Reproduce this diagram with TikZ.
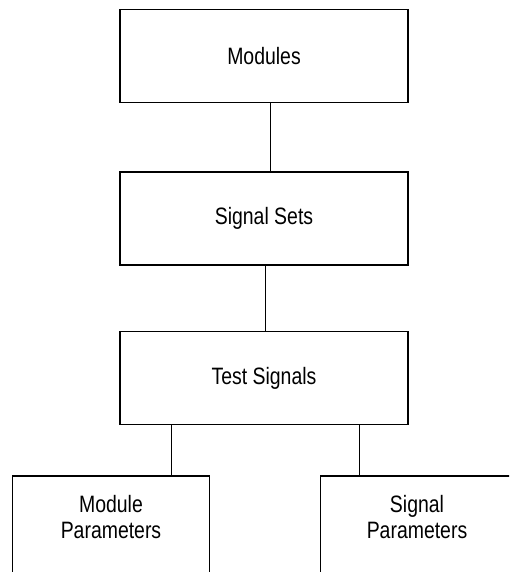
\documentclass[tikz,border=0pt]{standalone}
\usepackage{fontspec}
\setmainfont{Liberation Sans}[FakeStretch=0.82]
\begin{document}
\begin{tikzpicture}[x=1pt,y=-1pt,
  box/.style={draw,line width=1.8pt,minimum width=288pt,minimum height=93pt,inner sep=0pt},
  lbl/.style={align=center,font=\fontsize{23.7}{26}\selectfont},
  link/.style={line width=0.9pt}]
  \useasboundingbox (0,0) rectangle (509,572);
  \clip (0,0) rectangle (509,572);

  \node[box,lbl] (mod)  at (264,56)    {Modules};
  \node[box,lbl] (sets) at (264,218.5) {Signal Sets};
  \node[box,lbl] (test) at (264,378)   {Test Signals};

  % bottom boxes run off the page
  \node[box,minimum width=197pt,minimum height=130pt] (mpar) at (111,541) {};
  \node[box,minimum width=193pt,minimum height=130pt] (spar) at (417,541) {};
  \node[lbl] (mparlbl) at (111,517) {Module\\Parameters};
  \node[lbl] (sparlbl) at (417,517) {Signal\\Parameters};

  \draw[link] ([xshift=6]mod.south) -- ([xshift=6]mod.south |- sets.north);
  \draw[link] ([xshift=1]sets.south) -- ([xshift=1]sets.south |- test.north);
  \draw[link] ([xshift=60]mpar.north |- test.south) -- ([xshift=60]mpar.north);
  \draw[link] ([xshift=-58]spar.north |- test.south) -- ([xshift=-58]spar.north);
\end{tikzpicture}
\end{document}
